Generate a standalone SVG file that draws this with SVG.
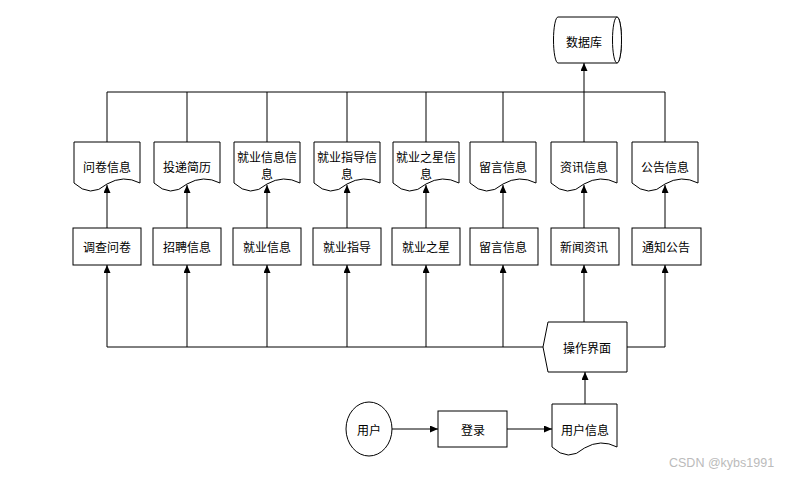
<svg xmlns="http://www.w3.org/2000/svg" width="794" height="477" viewBox="0 0 794 477">
<defs>
<marker id="arr" markerWidth="8" markerHeight="7" refX="8" refY="3.5" orient="auto" markerUnits="userSpaceOnUse">
<path d="M0,0 L8,3.5 L0,7 Z" fill="#000"/>
</marker>
<style>
.s{fill:#fff;stroke:#000;stroke-width:1}
.t{font-family:"Noto Sans CJK SC","Liberation Sans",sans-serif;font-size:12px;fill:#000;text-anchor:middle;dominant-baseline:central}
.c{fill:none;stroke:#000;stroke-width:1}
.a{fill:none;stroke:#000;stroke-width:1;marker-end:url(#arr)}
</style>
</defs>
<rect width="794" height="477" fill="#fff"/>
<g id="connectors">
<path class="c" d="M107,92 H665 M107,92 V142 M187,92 V142 M267,92 V142 M347,92 V142 M426,92 V142 M503,92 V142 M584,92 V142 M665,92 V142"/>
<path class="a" d="M584,92 V63"/>
<path class="a" d="M107,228 V185"/>
<path class="a" d="M187,228 V185"/>
<path class="a" d="M267,228 V185"/>
<path class="a" d="M347,228 V185"/>
<path class="a" d="M426,228 V185"/>
<path class="a" d="M503,228 V185"/>
<path class="a" d="M584,228 V185"/>
<path class="a" d="M665,228 V185"/>
<path class="c" d="M107,347 H543"/>
<path class="a" d="M107,347 V265"/>
<path class="a" d="M187,347 V265"/>
<path class="a" d="M267,347 V265"/>
<path class="a" d="M347,347 V265"/>
<path class="a" d="M426,347 V265"/>
<path class="a" d="M503,347 V265"/>
<path class="a" d="M584,322 V265"/>
<path class="a" d="M627,347 H665 V265"/>
<path class="a" d="M585,404 V372"/>
<path class="a" d="M392,429 H438"/>
<path class="a" d="M507,429 H552"/>
</g>
<g id="db">
<path class="s" d="M558,17 H617 A4.5,23 0 0 1 617,63 H558 A4.5,23 0 0 1 558,17 Z"/>
<ellipse class="s" cx="617" cy="40" rx="4.5" ry="23"/>
<text class="t" x="584" y="41">数据库</text>
</g>
<g id="doc1"><path class="s" d="M74,142 h66 v41 q-16.5,-8.5 -33,1 q-16.5,14.5 -33,-1 Z"/><text class="t" x="107" y="166">问卷信息</text></g>
<g id="doc2"><path class="s" d="M154,142 h66 v41 q-16.5,-8.5 -33,1 q-16.5,14.5 -33,-1 Z"/><text class="t" x="187" y="166">投递简历</text></g>
<g id="doc3"><path class="s" d="M234,142 h66 v41 q-16.5,-8.5 -33,1 q-16.5,14.5 -33,-1 Z"/><text class="t" x="267" y="156">就业信息信</text><text class="t" x="267" y="173">息</text></g>
<g id="doc4"><path class="s" d="M314,142 h66 v41 q-16.5,-8.5 -33,1 q-16.5,14.5 -33,-1 Z"/><text class="t" x="347" y="156">就业指导信</text><text class="t" x="347" y="173">息</text></g>
<g id="doc5"><path class="s" d="M393,142 h66 v41 q-16.5,-8.5 -33,1 q-16.5,14.5 -33,-1 Z"/><text class="t" x="426" y="156">就业之星信</text><text class="t" x="426" y="173">息</text></g>
<g id="doc6"><path class="s" d="M470,142 h66 v41 q-16.5,-8.5 -33,1 q-16.5,14.5 -33,-1 Z"/><text class="t" x="503" y="166">留言信息</text></g>
<g id="doc7"><path class="s" d="M551,142 h66 v41 q-16.5,-8.5 -33,1 q-16.5,14.5 -33,-1 Z"/><text class="t" x="584" y="166">资讯信息</text></g>
<g id="doc8"><path class="s" d="M632,142 h66 v41 q-16.5,-8.5 -33,1 q-16.5,14.5 -33,-1 Z"/><text class="t" x="665" y="166">公告信息</text></g>
<g id="rect1"><rect class="s" x="73" y="228" width="68" height="37"/><text class="t" x="107" y="246">调查问卷</text></g>
<g id="rect2"><rect class="s" x="153" y="228" width="68" height="37"/><text class="t" x="187" y="246">招聘信息</text></g>
<g id="rect3"><rect class="s" x="233" y="228" width="68" height="37"/><text class="t" x="267" y="246">就业信息</text></g>
<g id="rect4"><rect class="s" x="313" y="228" width="68" height="37"/><text class="t" x="347" y="246">就业指导</text></g>
<g id="rect5"><rect class="s" x="392" y="228" width="68" height="37"/><text class="t" x="426" y="246">就业之星</text></g>
<g id="rect6"><rect class="s" x="470" y="228" width="68" height="37"/><text class="t" x="503" y="246">留言信息</text></g>
<g id="rect7"><rect class="s" x="551" y="228" width="68" height="37"/><text class="t" x="584" y="246">新闻资讯</text></g>
<g id="rect8"><rect class="s" x="632" y="228" width="69" height="37"/><text class="t" x="666" y="246">通知公告</text></g>
<g id="ui"><path class="s" d="M548,322 H627 V372 H548 L543,347 Z"/><text class="t" x="587" y="347">操作界面</text></g>
<g id="user"><ellipse class="s" cx="369" cy="429" rx="23" ry="27"/><text class="t" x="369" y="429">用户</text></g>
<g id="login"><rect class="s" x="438" y="411" width="69" height="36"/><text class="t" x="473" y="429">登录</text></g>
<g id="userinfo"><path class="s" d="M552,404 h65 v43 q-16.25,-8.5 -32.5,1 q-16.25,14.5 -32.5,-1 Z"/><text class="t" x="585" y="429">用户信息</text></g>
<text x="669" y="467" font-family="Liberation Sans, sans-serif" font-size="12.5" fill="#bbb">CSDN @kybs1991</text>
</svg>
